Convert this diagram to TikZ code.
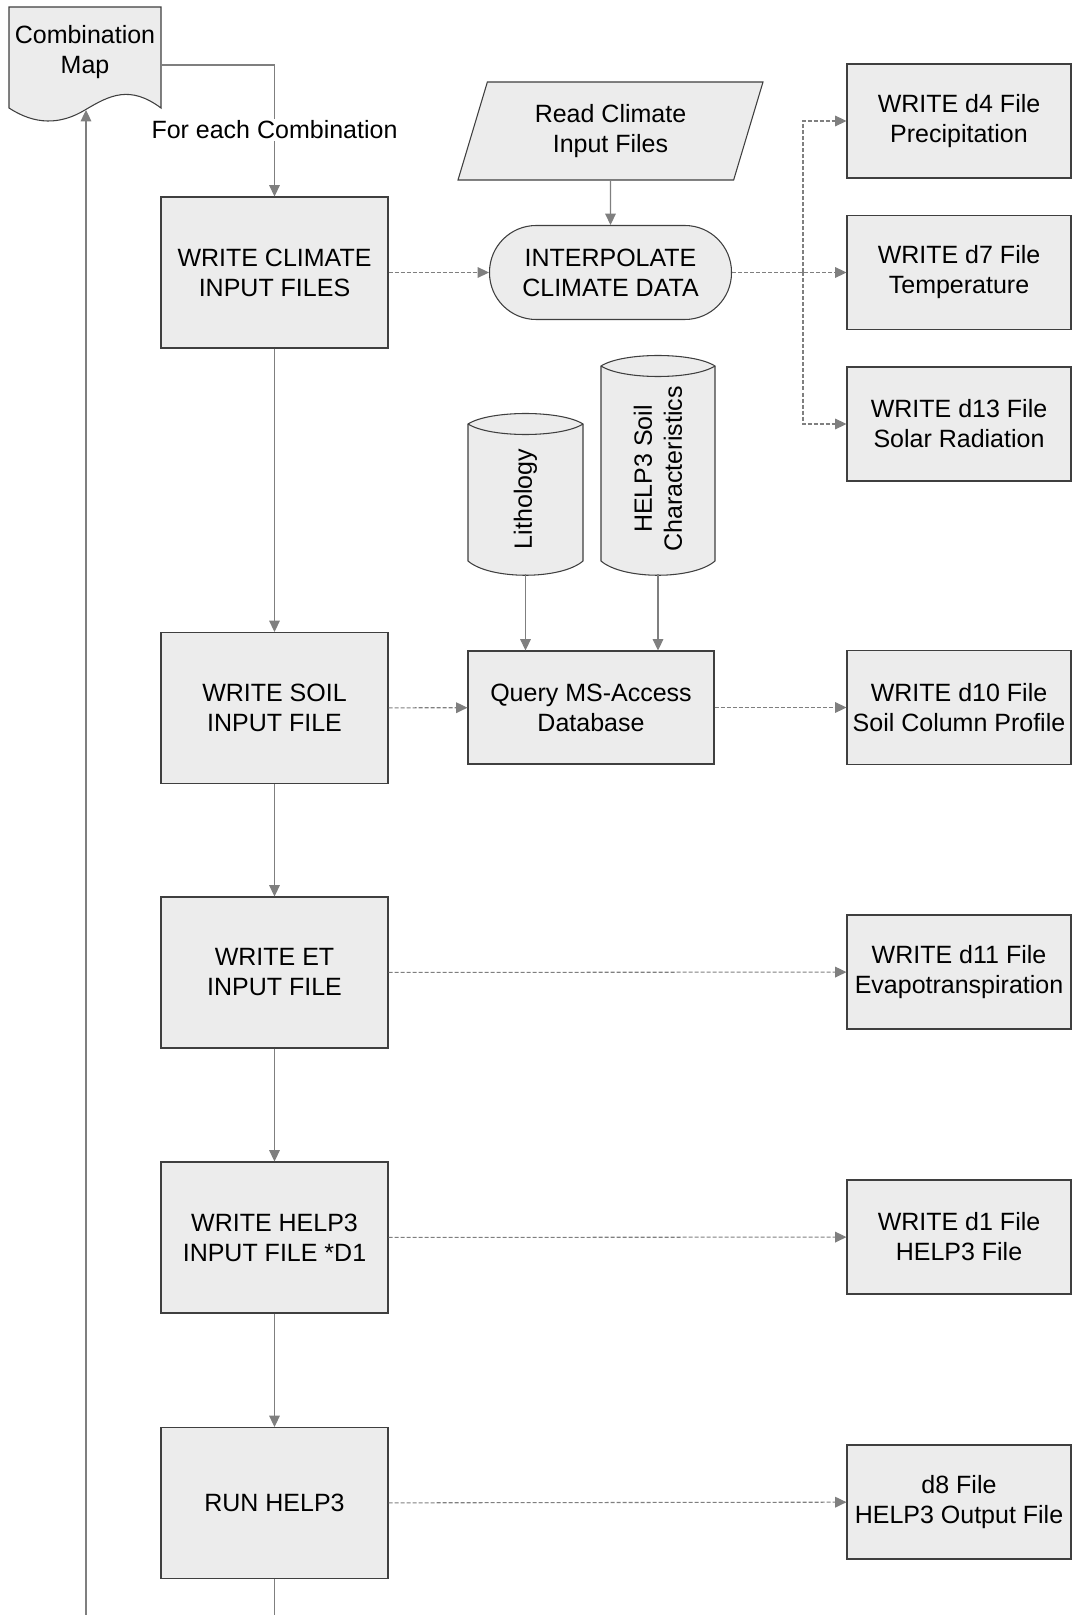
\documentclass[tikz,border=0pt]{standalone}
\usepackage{fontspec}
\setmainfont{Liberation Sans}
\usetikzlibrary{arrows.meta,shapes.geometric}
\definecolor{boxfill}{HTML}{ECECEC}
\definecolor{boxline}{HTML}{3F3F3F}
\definecolor{connline}{HTML}{7F7F7F}

\begin{document}
\begin{tikzpicture}[x=0.75pt,y=-0.75pt,
	every node/.style={font=\fontsize{18.75}{22.5}\selectfont, align=center, inner sep=2pt},
	shapebox/.style={draw=boxline, fill=boxfill, line width=0.8pt},
	procbox/.style={shapebox, minimum width=170.25pt, minimum height=113.25pt},
	outbox/.style={shapebox, minimum width=168pt, minimum height=85.5pt},
	dblabel/.style={rotate=90, minimum height=85.5pt},
	flow/.style={color=connline, line width=0.8pt, -{Triangle[length=8.5pt,width=8pt]}},
	feed/.style={flow, dash pattern=on 3pt off 1.5pt}]
	\useasboundingbox (0,0) rectangle (1072,1615);

	\draw[shapebox] (9,7) -- (161,7) -- (161,108) .. controls (130,85) and (110,95) .. (85,110) .. controls (60,125) and (35,125) .. (9,108) -- cycle;
	\node (map) at (85,52) {Combination\\Map};
	\coordinate (mapout) at (161,65);
	\coordinate (mapin) at (86,110);

	\node[procbox] (climate) at (274.5,272.5) {WRITE CLIMATE\\INPUT FILES};
	\node[procbox] (soil) at (274.5,708) {WRITE SOIL\\INPUT FILE};
	\node[procbox] (et) at (274.5,972.5) {WRITE ET\\INPUT FILE};
	\node[procbox] (help) at (274.5,1237.5) {WRITE HELP3\\INPUT FILE *D1};
	\node[procbox] (run) at (274.5,1503) {RUN HELP3};

	\node[shapebox, trapezium, trapezium left angle=63.4, trapezium right angle=116.6, trapezium stretches body, minimum width=228.75pt, minimum height=73.5pt] (read) at (610.5,131) {Read Climate\\Input Files};
	\node[shapebox, rounded corners=35pt, minimum width=181.5pt, minimum height=70.5pt] (interp) at (610.5,272.5) {INTERPOLATE\\CLIMATE DATA};

	\draw[shapebox] (468,424) -- (468,561) .. controls (490,580) and (561,580) .. (583,561) -- (583,424) .. controls (561,410) and (490,410) .. (468,424) -- cycle;
	\draw[shapebox] (468,424) .. controls (490,438) and (561,438) .. (583,424);
	\node[dblabel, minimum width=112.5pt] (litho) at (525.5,499) {Lithology};
	\draw[shapebox] (601,366) -- (601,561) .. controls (623,580) and (693,580) .. (715,561) -- (715,366) .. controls (693,352) and (623,352) .. (601,366) -- cycle;
	\draw[shapebox] (601,366) .. controls (623,380) and (693,380) .. (715,366);
	\node[dblabel, minimum width=157.5pt] (soilchar) at (658,469) {HELP3 Soil\\Characteristics};
	\node[shapebox, minimum width=184.5pt, minimum height=84.75pt] (query) at (591,707.5) {Query MS-Access\\Database};

	\node[outbox] (dfour) at (959,121) {WRITE d4 File\\Precipitation};
	\node[outbox] (dseven) at (959,272.5) {WRITE d7 File\\Temperature};
	\node[outbox] (dthirteen) at (959,424) {WRITE d13 File\\Solar Radiation};
	\node[outbox] (dten) at (959,707.5) {WRITE d10 File\\Soil Column Profile};
	\node[outbox] (deleven) at (959,972) {WRITE d11 File\\Evapotranspiration};
	\node[outbox] (done) at (959,1237) {WRITE d1 File\\HELP3 File};
	\node[outbox] (deight) at (959,1502) {d8 File\\HELP3 Output File};

	\draw[flow] (mapout) -| (climate.north);
	\node[fill=white, inner sep=1pt] (each) at (274.5,130) {For each Combination};
	\draw[flow] (climate) -- (soil);
	\draw[flow] (soil) -- (et);
	\draw[flow] (et) -- (help);
	\draw[flow] (help) -- (run);
	\coordinate (runend) at (274.5,1615);
	\draw[flow, -] (run) -- (runend);
	\coordinate (loopstart) at (86,1615);
	\draw[flow] (loopstart) -- (mapin);

	\draw[flow] (read) -- (interp);
	\draw[feed] (climate) -- (interp);
	\coordinate (split) at (803,272.5);
	\draw[feed] (interp) -- (dseven);
	\draw[feed] (split) |- (dfour);
	\draw[feed] (split) |- (dthirteen);

	\draw[flow] (litho.west) -- (litho.west |- query.north);
	\draw[flow] (soilchar.west) -- (soilchar.west |- query.north);
	\draw[feed] (soil) -- (query);
	\draw[feed] (query) -- (dten);
	\draw[feed] (et) -- (deleven);
	\draw[feed] (help) -- (done);
	\draw[feed] (run) -- (deight);
\end{tikzpicture}
\end{document}
